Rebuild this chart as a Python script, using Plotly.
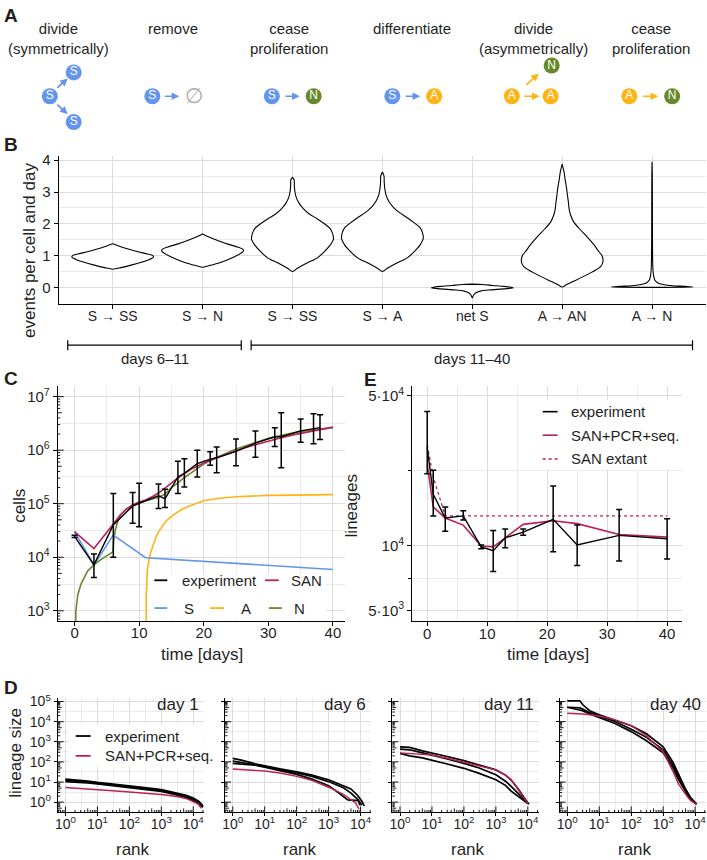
import plotly.graph_objects as go

W, H = 707, 860
FONT = "Liberation Sans"
INK = "#1f1f1f"
GRID = "#dcdcdc"
GRID_MINOR = "#ebebeb"
COL = {"S": "#6495ED", "A": "#FFB415", "N": "#65892B", "SAN": "#BD1F5C", "exp": "#000000"}

# ---------------- Panel A : schematic ----------------
A_titles = ["divide<br>(symmetrically)", "remove", "cease<br>proliferation",
            "differentiate", "divide<br>(asymmetrically)", "cease<br>proliferation"]
A_title_x = [56, 171, 287, 411, 533, 651]
A_node_labels = ["S", "S", "S", "S", "S", "N", "S", "A", "A", "A", "N", "A", "N"]
A_node_x = [47, 71, 71, 150, 270, 312, 391, 433, 511, 550, 551, 629, 672]
A_node_y = [90, 66, 116, 90, 90, 90, 90, 90, 90, 90, 59, 90, 90]
A_arrow_kind = ["S", "S", "S", "S", "S", "A", "A", "A"]
A_arrow_tail = [(53, 83), (53, 97), (161, 90), (282, 90), (403, 90), (522, 90), (524, 80), (641, 90)]
A_arrow_head = [(65, 72), (65, 108), (177, 90), (298, 90), (419, 90), (539, 90), (538, 67), (658, 90)]

# ---------------- Panel B : violins ----------------
v_labels = ["S → SS", "S → N", "S → SS", "S → A", "net S", "A → AN", "A → N"]
v_y = [
    [0.57, 0.62, 0.70, 0.80, 0.88, 0.95, 1.00, 1.05, 1.12, 1.20, 1.28, 1.34, 1.37],
    [0.63, 0.68, 0.76, 0.86, 0.96, 1.06, 1.14, 1.20, 1.27, 1.36, 1.46, 1.56, 1.64, 1.68],
    [0.50, 0.60, 0.75, 0.92, 1.10, 1.33, 1.51, 1.70, 1.85, 2.00, 2.16, 2.30, 2.47, 2.65, 2.84, 3.00, 3.20, 3.38, 3.46],
    [0.50, 0.60, 0.75, 0.92, 1.10, 1.33, 1.54, 1.72, 1.88, 2.03, 2.20, 2.35, 2.52, 2.70, 2.90, 3.10, 3.30, 3.50, 3.63],
    [-0.33, -0.25, -0.18, -0.12, -0.08, -0.04, -0.02, 0.00, 0.03, 0.06, 0.09, 0.10],
    [0.01, 0.08, 0.19, 0.40, 0.65, 0.83, 1.00, 1.12, 1.35, 1.59, 1.82, 2.06, 2.30, 2.47, 2.70, 2.89, 3.10, 3.41, 3.60, 3.72, 3.88],
    [0.00, 0.012, 0.03, 0.05, 0.08, 0.12, 0.18, 0.25, 0.35, 0.50, 0.80, 1.50, 2.50, 3.50, 3.95],
]
v_w = [
    [0.0, 0.2, 0.45, 0.72, 0.9, 1.0, 0.98, 0.85, 0.62, 0.4, 0.2, 0.07, 0.0],
    [0.0, 0.15, 0.38, 0.6, 0.78, 0.92, 1.0, 0.98, 0.85, 0.62, 0.4, 0.2, 0.06, 0.0],
    [0.0, 0.12, 0.33, 0.6, 0.76, 0.92, 1.0, 0.98, 0.92, 0.78, 0.6, 0.42, 0.27, 0.16, 0.09, 0.06, 0.045, 0.04, 0.0],
    [0.0, 0.12, 0.33, 0.6, 0.76, 0.92, 1.0, 0.98, 0.92, 0.78, 0.6, 0.42, 0.27, 0.16, 0.09, 0.06, 0.045, 0.04, 0.0],
    [0.0, 0.03, 0.08, 0.2, 0.45, 0.85, 1.0, 0.95, 0.78, 0.5, 0.25, 0.0],
    [0.0, 0.1, 0.28, 0.61, 0.94, 1.0, 0.97, 0.9, 0.77, 0.61, 0.44, 0.28, 0.2, 0.17, 0.15, 0.13, 0.11, 0.07, 0.05, 0.03, 0.0],
    [0.0, 1.0, 0.8, 0.5, 0.3, 0.17, 0.1, 0.06, 0.04, 0.025, 0.015, 0.01, 0.008, 0.006, 0.0],
]
VIOLIN_HALF = 0.455

# ---------------- Panel C : cell numbers ----------------
exp_days = [0, 3, 6, 9, 10, 13, 14, 16, 17, 19, 21, 22, 25, 28, 31, 32, 35, 37, 38]
exp_cells = [2.45e4, 7.2e3, 4.0e4, 9.1e4, 1.02e5, 1.41e5, 1.23e5, 3.16e5, 3.7e5, 5.6e5, 6.8e5, 7.2e5,
             9.5e5, 1.35e6, 1.78e6, 1.78e6, 2.29e6, 2.51e6, 2.63e6]
exp_hi = [2.57e4, 1.15e4, 1.55e5, 1.62e5, 2.4e5, 2.34e5, 1.86e5, 6.2e5, 6.9e5, 1.0e6, 9.3e5, 1.15e6,
          1.62e6, 2.29e6, 2.63e6, 5.0e6, 3.8e6, 4.8e6, 4.57e6]
exp_lo = [2.34e4, 4.2e3, 1.0e4, 4.3e4, 3.7e4, 8.1e4, 8.5e4, 1.55e5, 2.04e5, 3.16e5, 5.2e5, 3.8e5,
          5.1e5, 7.4e5, 1.17e6, 4.7e5, 1.41e6, 1.32e6, 1.58e6]
san_days = [0, 3, 6, 7, 8, 9, 10, 11, 12, 13, 14, 15, 16, 17, 18, 19, 20, 22, 24, 26, 28, 30, 32, 34, 36, 38, 40]
san_cells = [3.02e4, 1.45e4, 4.17e4, 6.03e4, 7.94e4, 9.55e4, 1.07e5, 1.17e5, 1.35e5, 1.58e5, 1.95e5, 2.45e5,
             3.02e5, 3.63e5, 4.37e5, 5.01e5, 5.75e5, 7.24e5, 8.91e5, 1.07e6, 1.26e6, 1.48e6, 1.70e6, 1.95e6,
             2.19e6, 2.45e6, 2.69e6]
s_days = [0, 3, 6, 11, 40]
s_cells = [3.0e4, 7.2e3, 2.6e4, 9.8e3, 5.9e3]
a_days = [11.0, 11.03, 11.1, 11.28, 11.64, 12.1, 12.67, 13.3, 14.1, 15.3, 16.7, 18.3, 20.1, 22.5, 25, 30, 35, 40]
a_cells = [1, 300, 2.0e3, 6.0e3, 1.07e4, 1.58e4, 2.51e4, 3.39e4, 4.68e4, 6.17e4, 7.94e4, 9.55e4, 1.15e5,
           1.26e5, 1.35e5, 1.43e5, 1.46e5, 1.48e5]
n_days = [0, 0.1, 0.2, 0.5, 1, 2, 3, 4, 5, 5.95, 6.05, 6.3, 6.7, 7.2, 8, 9, 10, 11, 12, 13, 14, 15, 16, 17,
          18, 20, 22.5, 25, 30, 35, 40]
n_cells = [10, 600, 1.0e3, 2.0e3, 3.16e3, 5.5e3, 7.2e3, 8.9e3, 1.05e4, 1.26e4, 2.0e4, 3.16e4, 4.79e4, 6.3e4,
           7.9e4, 9.1e4, 1.02e5, 1.12e5, 1.2e5, 1.32e5, 1.51e5, 2.0e5, 2.45e5, 3.09e5, 3.72e5, 5.5e5, 7.76e5,
           1.05e6, 1.66e6, 2.24e6, 2.63e6]

# ---------------- Panel E : lineages ----------------
lin_days = [0, 1, 3, 6, 9, 11, 13, 16, 21, 25, 32, 40]
lin_exp = [2.87e4, 1.74e4, 1.35e4, 1.38e4, 9.9e3, 9.5e3, 1.09e4, 1.16e4, 1.33e4, 1.01e4, 1.12e4, 1.08e4]
lin_hi = [4.23e4, 2.25e4, 1.52e4, 1.46e4, 1.01e4, 1.18e4, 1.2e4, 1.2e4, 1.9e4, 1.25e4, 1.48e4, 1.34e4]
lin_lo = [2.17e4, 1.38e4, 1.17e4, 1.32e4, 9.7e3, 7.6e3, 9.8e3, 1.12e4, 9.4e3, 8.1e3, 8.5e3, 8.7e3]
lin_san = [2.4e4, 1.52e4, 1.35e4, 1.25e4, 1.0e4, 9.9e3, 1.09e4, 1.26e4, 1.31e4, 1.27e4, 1.13e4, 1.10e4]
lin_ext = [2.95e4, 2.1e4, 1.38e4, 1.38e4, 1.38e4, 1.38e4, 1.38e4, 1.38e4, 1.38e4, 1.38e4, 1.38e4, 1.38e4]

# ---------------- Panel D : rank-size ----------------
d_titles = ["day 1", "day 6", "day 11", "day 40"]
d_exp_rank = [
    [[1, 2, 5, 10, 30, 100, 300, 1000, 3000, 6000, 10000, 15000, 20000]] * 3,
    [[1, 2, 5, 10, 30, 100, 300, 1000, 3000, 5000, 8000, 11000, 13000],
     [1, 2, 5, 10, 30, 100, 300, 1000, 3000, 5000, 8000, 11000],
     [1, 2, 5, 10, 30, 100, 300, 1000, 2000, 4000, 8500, 9500]],
    [[1, 2, 5, 10, 30, 100, 300, 1000, 2000, 3000, 5000, 7000, 10000, 11000],
     [1, 2, 5, 10, 30, 100, 300, 1000, 2000, 3000, 5000, 7000, 10000],
     [1, 2, 5, 10, 30, 100, 300, 1000, 2000, 3000, 5000, 7000, 10000]],
    [[1, 2.5, 3, 5, 10, 30, 100, 300, 1000, 2000, 3000, 5000, 7000, 11000]] * 3,
]
d_exp_size = [
    [[14, 13, 11, 9.5, 8, 6.5, 5.3, 4.2, 2.9, 2.2, 1.6, 1.1, 0.65],
     [12, 11.5, 10, 8.5, 7, 5.8, 4.8, 3.8, 2.6, 1.9, 1.35, 1.0, 0.6],
     [10.5, 10, 9, 8, 6.5, 5.3, 4.3, 3.4, 2.3, 1.7, 1.2, 0.9, 0.55]],
    [[150, 120, 80, 62, 45, 32, 22, 13, 6.5, 4.5, 2.2, 1.1, 0.65],
     [110, 95, 72, 58, 42, 29, 19, 10.5, 5, 2.8, 1.4, 0.7],
     [85, 80, 68, 55, 38, 24, 14, 6.6, 3.0, 1.3, 1.2, 0.7]],
    [[560, 525, 355, 280, 186, 115, 71, 40, 22, 12.6, 4.5, 2, 0.9, 0.8],
     [427, 400, 282, 219, 141, 85, 50, 23, 11, 6, 2.8, 1.6, 0.85],
     [263, 200, 158, 123, 79, 48, 27, 13, 6.8, 3.5, 2, 1.26, 0.85]],
    [[1.07e5, 1.07e5, 7.1e4, 3.5e4, 2.2e4, 1.26e4, 6300, 2500, 560, 100, 25, 4.5, 1.8, 0.8],
     [5.2e4, 4.8e4, 4.2e4, 2.8e4, 1.86e4, 1.05e4, 4200, 1660, 400, 71, 18, 3.5, 1.6, 0.8],
     [5.2e4, 4.0e4, 3.5e4, 2.4e4, 1.6e4, 8300, 3200, 1120, 280, 50, 13, 3.2, 1.4, 0.8]],
]
d_san_rank = [
    [1, 2, 5, 10, 30, 100, 300, 1000, 3000, 6000, 10000, 14000, 18000],
    [1, 2, 5, 10, 30, 100, 300, 1000, 3000, 5000, 7000, 9000],
    [1, 2, 5, 10, 30, 100, 300, 1000, 2000, 3000, 5000, 7000, 10000],
    [1, 2.5, 3, 5, 10, 30, 100, 300, 1000, 2000, 3000, 5000, 7000, 11000],
]
d_san_size = [
    [5.3, 5, 4.6, 4.2, 3.7, 3.2, 2.8, 2.4, 1.9, 1.5, 1.05, 0.8, 0.5],
    [44, 41, 38, 35, 28, 19, 12, 5.5, 2.4, 1.4, 0.9, 0.45],
    [282, 263, 240, 219, 151, 95, 63, 40, 22, 12.9, 4.2, 1.8, 0.85],
    [2.6e4, 2.5e4, 2.4e4, 2.2e4, 1.9e4, 1.26e4, 6300, 2000, 316, 35, 8, 2.5, 1.26, 0.76],
]

# ======================================================================
fig = go.Figure()
shapes, anns = [], []


def fx(px):
    return px / W


def fy(py):
    return 1 - py / H


def ptext(text, xp, yp, size=15, xanchor="center", yanchor="middle", angle=0, color=INK, family=FONT):
    anns.append(dict(text=text, x=fx(xp), y=fy(yp), xref="paper", yref="paper", showarrow=False,
                     xanchor=xanchor, yanchor=yanchor, textangle=angle,
                     font=dict(family=family, size=size, color=color)))


def pline(x0, y0, x1, y1, color="black", width=1.2, dash="solid"):
    shapes.append(dict(type="line", xref="paper", yref="paper", x0=fx(x0), y0=fy(y0), x1=fx(x1), y1=fy(y1),
                       line=dict(color=color, width=width, dash=dash), layer="above"))


def prect(x0, y0, x1, y1):
    shapes.append(dict(type="rect", xref="paper", yref="paper", x0=fx(x0), y0=fy(y0), x1=fx(x1), y1=fy(y1),
                       line=dict(width=0), fillcolor="white", layer="above"))


# ---------------- Panel A ----------------
for kind in ["S", "A", "N"]:
    idx = [i for i, l in enumerate(A_node_labels) if l == kind]
    fig.add_trace(go.Scatter(
        x=[A_node_x[i] for i in idx], y=[A_node_y[i] for i in idx], mode="markers+text",
        text=[kind] * len(idx), textposition="middle center",
        textfont=dict(family=FONT, size=12, color="white"),
        marker=dict(size=16, color=COL[kind], line=dict(width=0)),
        xaxis="x8", yaxis="y8", hoverinfo="skip", showlegend=False))
for kind, (tx, ty), (hx, hy) in zip(A_arrow_kind, A_arrow_tail, A_arrow_head):
    anns.append(dict(x=hx, y=hy, ax=tx, ay=ty, xref="x8", yref="y8", axref="x8", ayref="y8", text="",
                     showarrow=True, arrowhead=2, arrowsize=0.9, arrowwidth=1.7, arrowcolor=COL[kind],
                     standoff=0, startstandoff=0))
anns.append(dict(x=192, y=90, xref="x8", yref="y8", text="∅", showarrow=False,
                 font=dict(family="DejaVu Sans", size=21, color="#ababab")))
for t, cx in zip(A_titles, A_title_x):
    ptext(t, cx, 11, size=15, yanchor="top")

# ---------------- Panel B ----------------
for i, (ys, ws) in enumerate(zip(v_y, v_w)):
    xs = [i + w * VIOLIN_HALF for w in ws] + [i - w * VIOLIN_HALF for w in reversed(ws)]
    yy = list(ys) + list(reversed(ys))
    fig.add_trace(go.Scatter(x=xs, y=yy, mode="lines", fill="toself", fillcolor="white",
                             line=dict(color="black", width=1.1, shape="spline", smoothing=0.8),
                             xaxis="x", yaxis="y", hoverinfo="skip", showlegend=False))
# brackets
for (a, b), lab in zip([(-0.5, 1.43), (1.54, 6.45)], ["days 6–11", "days 11–40"]):
    for xv0, xv1, y0, y1 in [(a, b, 341, 341), (a, a, 336, 346), (b, b, 336, 346)]:
        shapes.append(dict(type="line", xref="x", yref="paper", x0=xv0, x1=xv1, y0=fy(y0), y1=fy(y1),
                           line=dict(color="black", width=1.2)))
    anns.append(dict(text=lab, x=(a + b) / 2, y=fy(354), xref="x", yref="paper", showarrow=False,
                     font=dict(family=FONT, size=15, color=INK)))

# ---------------- Panel C ----------------
fig.add_trace(go.Scatter(x=n_days, y=n_cells, mode="lines", line=dict(color=COL["N"], width=1.6),
                         xaxis="x2", yaxis="y2", showlegend=False, hoverinfo="skip"))
fig.add_trace(go.Scatter(x=a_days, y=a_cells, mode="lines", line=dict(color=COL["A"], width=1.6),
                         xaxis="x2", yaxis="y2", showlegend=False, hoverinfo="skip"))
fig.add_trace(go.Scatter(x=s_days, y=s_cells, mode="lines", line=dict(color=COL["S"], width=1.6),
                         xaxis="x2", yaxis="y2", showlegend=False, hoverinfo="skip"))
fig.add_trace(go.Scatter(x=san_days, y=san_cells, mode="lines", line=dict(color=COL["SAN"], width=1.6),
                         xaxis="x2", yaxis="y2", showlegend=False, hoverinfo="skip"))
fig.add_trace(go.Scatter(
    x=exp_days, y=exp_cells, mode="lines", line=dict(color="black", width=1.4),
    error_y=dict(type="data", symmetric=False,
                 array=[h - v for h, v in zip(exp_hi, exp_cells)],
                 arrayminus=[v - l for v, l in zip(exp_cells, exp_lo)],
                 color="black", thickness=1.5, width=3),
    xaxis="x2", yaxis="y2", showlegend=False, hoverinfo="skip"))

# ---------------- Panel E ----------------
fig.add_trace(go.Scatter(x=lin_days, y=lin_ext, mode="lines", line=dict(color=COL["SAN"], width=1.3, dash="dot"),
                         xaxis="x3", yaxis="y3", showlegend=False, hoverinfo="skip"))
fig.add_trace(go.Scatter(x=lin_days, y=lin_san, mode="lines", line=dict(color=COL["SAN"], width=1.6),
                         xaxis="x3", yaxis="y3", showlegend=False, hoverinfo="skip"))
fig.add_trace(go.Scatter(
    x=lin_days, y=lin_exp, mode="lines", line=dict(color="black", width=1.4),
    error_y=dict(type="data", symmetric=False,
                 array=[h - v for h, v in zip(lin_hi, lin_exp)],
                 arrayminus=[v - l for v, l in zip(lin_exp, lin_lo)],
                 color="black", thickness=1.5, width=3),
    xaxis="x3", yaxis="y3", showlegend=False, hoverinfo="skip"))

# ---------------- Panel D ----------------
for k in range(4):
    xa, ya = f"x{k + 4}", f"y{k + 4}"
    for rr, ss in zip(d_exp_rank[k], d_exp_size[k]):
        fig.add_trace(go.Scatter(x=rr, y=ss, mode="lines", line=dict(color="black", width=1.7),
                                 xaxis=xa, yaxis=ya, showlegend=False, hoverinfo="skip"))
    fig.add_trace(go.Scatter(x=d_san_rank[k], y=d_san_size[k], mode="lines",
                             line=dict(color=COL["SAN"], width=1.4),
                             xaxis=xa, yaxis=ya, showlegend=False, hoverinfo="skip"))

# ======================================================================
# axes
def base_axis(domain, rng, anchor, size=15, **kw):
    d = dict(domain=domain, range=rng, anchor=anchor, showline=True, linecolor="black", linewidth=1.2,
             ticks="outside", ticklen=4, tickwidth=1.2, tickcolor="black", showgrid=True, gridcolor=GRID,
             gridwidth=1.2, zeroline=False, tickfont=dict(family=FONT, size=size, color=INK))
    d.update(kw)
    return d


def minor_vals(vals):
    return dict(tickmode="array", tickvals=vals, showgrid=True, gridcolor=GRID_MINOR, gridwidth=0.9)


layout_axes = {}
# B
layout_axes["xaxis"] = base_axis([fx(56), fx(706)], [-0.6, 6.6], "y", size=14,
                                 tickmode="array", tickvals=list(range(7)), ticktext=v_labels,
                                 ticklabelstandoff=-5)
layout_axes["yaxis"] = base_axis([fy(299.3), fy(150)], [-0.52, 4.14], "x",
                                 tickmode="array", tickvals=[0, 1, 2, 3, 4],
                                 minor=minor_vals([0.5, 1.5, 2.5, 3.5]))
# C
layout_axes["xaxis2"] = base_axis([fx(55), fx(343)], [-2.6, 41.8], "y2",
                                  tickmode="array", tickvals=[0, 10, 20, 30, 40],
                                  minor=minor_vals([5, 15, 25, 35]), ticklabelstandoff=-6)
c_dec = [3, 4, 5, 6, 7]
layout_axes["yaxis2"] = base_axis([fy(619), fy(382)], [2.81, 7.2], "x2", type="log",
                                  tickmode="array", tickvals=[10 ** d for d in c_dec],
                                  ticktext=[f"10<sup>{d}</sup>" for d in c_dec],
                                  minor=minor_vals([10 ** (d + 0.5) for d in [2, 3, 4, 5, 6]]))
# E
layout_axes["xaxis3"] = base_axis([fx(411), fx(682)], [-2.5, 42.5], "y3",
                                  tickmode="array", tickvals=[0, 10, 20, 30, 40],
                                  minor=minor_vals([5, 15, 25, 35]), ticklabelstandoff=-5)
layout_axes["yaxis3"] = base_axis([fy(619.3), fy(381.7)], [3.649, 4.747], "x3", type="log",
                                  tickmode="array", tickvals=[5e3, 1e4, 5e4],
                                  ticktext=["5·10<sup>3</sup>", "10<sup>4</sup>", "5·10<sup>4</sup>"],
                                  minor=dict(tickmode="array", tickvals=[7071, 22361], showgrid=True,
                                             gridcolor=GRID_MINOR, gridwidth=0.9, ticks="outside",
                                             ticklen=3, tickcolor="black"))
# D
D_LEFT = [55, 223, 391, 559]
D_W = 147
D_TOP, D_BOT = 697, 812
for k in range(4):
    xr = [-0.24, 4.34]
    yr = [-0.51, 5.16]
    layout_axes[f"xaxis{k + 4}"] = base_axis([fx(D_LEFT[k]), fx(D_LEFT[k] + D_W)], xr, f"y{k + 4}", size=14,
                                             type="log", tickmode="array",
                                             tickvals=[10 ** d for d in range(5)],
                                             ticktext=[f"10<sup>{d}</sup>" for d in range(5)], ticklen=3,
                                             ticklabelstandoff=-4,
                                             minor=minor_vals([10 ** (d + 0.5) for d in range(5)]))
    layout_axes[f"yaxis{k + 4}"] = base_axis([fy(D_BOT), fy(D_TOP)], yr, f"x{k + 4}", size=14,
                                             type="log", tickmode="array",
                                             tickvals=[10 ** d for d in range(6)],
                                             ticktext=[f"10<sup>{d}</sup>" for d in range(6)],
                                             showticklabels=(k == 0), ticklen=3,
                                             minor=minor_vals([10 ** (d + 0.5) for d in range(-1, 5)]))
    # log ticks
    for d in range(-1, 6):
        for m in range(1, 10):
            v = m * 10 ** d
            L = 6 if m == 1 else (4 if m == 5 else 2.5)
            if 10 ** yr[0] <= v <= 10 ** yr[1]:
                shapes.append(dict(type="line", xref=f"x{k + 4} domain", yref=f"y{k + 4}", x0=0, x1=L / D_W,
                                   y0=v, y1=v, line=dict(color="black", width=0.9), layer="above"))
            if 10 ** xr[0] <= v <= 10 ** xr[1]:
                shapes.append(dict(type="line", xref=f"x{k + 4}", yref=f"y{k + 4} domain", x0=v, x1=v, y0=0,
                                   y1=L / (D_BOT - D_TOP), line=dict(color="black", width=0.9), layer="above"))
    ptext(d_titles[k], D_LEFT[k] + D_W - 3, 703, size=17, xanchor="right")
    ptext("rank", D_LEFT[k] + D_W / 2 + 2, 849, size=17)

# C logticks
for d in range(2, 8):
    for m in range(1, 10):
        v = m * 10 ** d
        L = 6 if m == 1 else (4 if m == 5 else 2.5)
        if 10 ** 2.81 <= v <= 10 ** 7.2:
            shapes.append(dict(type="line", xref="x2 domain", yref="y2", x0=0, x1=L / 288, y0=v, y1=v,
                               line=dict(color="black", width=0.9), layer="above"))

# A axes (hidden)
layout_axes["xaxis8"] = dict(domain=[0, 1], range=[0, W], visible=False, anchor="y8", fixedrange=True)
layout_axes["yaxis8"] = dict(domain=[fy(130), 1], range=[130, 0], visible=False, anchor="x8", fixedrange=True)

# ---------------- legends (drawn manually) ----------------
# C
prect(147, 572, 325, 617)
for (x0, x1, tx, lab, c) in [(152, 165, 178, "experiment", "black"), (263, 277, 287, "SAN", COL["SAN"])]:
    pline(x0, 578, x1, 578, color=c, width=1.8)
    ptext(lab, tx, 578, xanchor="left")
for (x0, x1, tx, lab) in [(152, 165, 180, "S"), (208, 222, 237, "A"), (267, 280, 290, "N")]:
    pline(x0, 606, x1, 606, color=COL[lab], width=1.8)
    ptext(lab, tx, 606, xanchor="left")
# E
prect(536, 396, 681, 466)
for yv, lab, c, dash in [(408, "experiment", "black", "solid"), (431.7, "SAN+PCR+seq.", COL["SAN"], "solid"),
                         (455.7, "SAN extant", COL["SAN"], "dot")]:
    pline(542, yv, 557, yv, color=c, width=1.6, dash=dash)
    ptext(lab, 568, yv, xanchor="left")
# D
prect(66, 724, 201, 766)
for yv, lab, c in [(735, "experiment", "black"), (755, "SAN+PCR+seq.", COL["SAN"])]:
    pline(73, yv, 88, yv, color=c, width=1.8)
    ptext(lab, 100, yv, xanchor="left")

# ---------------- titles & labels ----------------
ptext("events per cell and day", 26, 245, size=17, angle=-90)
ptext("cells", 17, 503, size=17, angle=-90)
ptext("time [days]", 200, 653, size=17)
ptext("lineages", 350, 503, size=17, angle=-90)
ptext("time [days]", 547, 653, size=17)
ptext("lineage size", 13, 752, size=17, angle=-90)
for lab, xp, yp in [("A", 8, 9), ("B", 8, 139), ("C", 8, 375), ("D", 8, 686), ("E", 369, 376)]:
    ptext(f"<b>{lab}</b>", xp, yp, size=19)

fig.update_layout(width=W, height=H, margin=dict(l=0, r=0, t=0, b=0), paper_bgcolor="white",
                  plot_bgcolor="white", showlegend=False, shapes=shapes, annotations=anns,
                  font=dict(family=FONT, color=INK), **layout_axes)
fig.write_html("out.html")
